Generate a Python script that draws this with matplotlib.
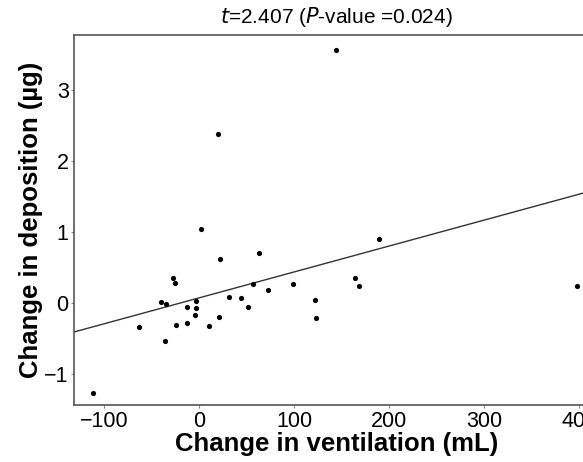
import numpy as np
import matplotlib
matplotlib.use("Agg")
import matplotlib.pyplot as plt

# Change in ventilation (mL) vs change in deposition (ug)
ventilation = [19.7, 1.8, 21.8, 62.5, 189.5, -28.0, -25.6, 56.8, 98.9, 163.9,
               167.8, 72.6, 31.3, 43.9, 51.6, -40.0, -35.1, -3.8, -13.3, -3.5,
               -4.5, 20.4, 121.8, 123.2, -13.3, -24.5, 10.2, -63.5, -35.8, 143.6,
               398.0, -111.6]
deposition = [2.38, 1.04, 0.62, 0.70, 0.90, 0.36, 0.29, 0.27, 0.27, 0.35,
              0.24, 0.19, 0.09, 0.07, -0.06, 0.01, -0.01, 0.03, -0.05, -0.07,
              -0.17, -0.19, 0.04, -0.21, -0.28, -0.31, -0.32, -0.34, -0.53, 3.55,
              0.24, -1.26]

# fitted line as drawn in the figure
fit_intercept = 0.075
fit_slope = 0.00364

x_ticks = [-100, 0, 100, 200, 300, 400]
y_ticks = [-1, 0, 1, 2, 3]

plt.rcParams["font.family"] = ["Liberation Sans", "DejaVu Sans"]

fig = plt.figure(figsize=(5.83, 4.62), dpi=100)
ax = fig.add_axes([0.1274, 0.1234, 0.899, 0.800])

ax.scatter(ventilation, deposition, s=14, color="black", zorder=3, linewidths=0)

xl = np.array([-140, 430])
ax.plot(xl, fit_intercept + fit_slope * xl, color="#333333", lw=1.0)

ax.set_xlim(-131.6, 420)
ax.set_ylim(-1.43, 3.76)
ax.set_xticks(x_ticks)
ax.set_yticks(y_ticks)
ax.set_xticklabels([str(v).replace("-", "\u2212") for v in x_ticks])
ax.set_yticklabels([str(v).replace("-", "\u2212") for v in y_ticks])
ax.tick_params(labelsize=15.5, length=2, width=0.8, color="#888888", pad=2)

for sp in ax.spines.values():
    sp.set_color("#555555")
    sp.set_linewidth(1.2)

ax.set_xlabel("Change in ventilation (mL)", fontsize=18.5, fontweight="bold", labelpad=0)
ax.set_ylabel("Change in deposition (\u00b5g)", fontsize=18.5, fontweight="bold", labelpad=1)
ax.set_title("$\\it{t}$=2.407 ($\\it{P}$-value =0.024)", fontsize=15, pad=9)

fig.savefig("out.png", dpi=100)
